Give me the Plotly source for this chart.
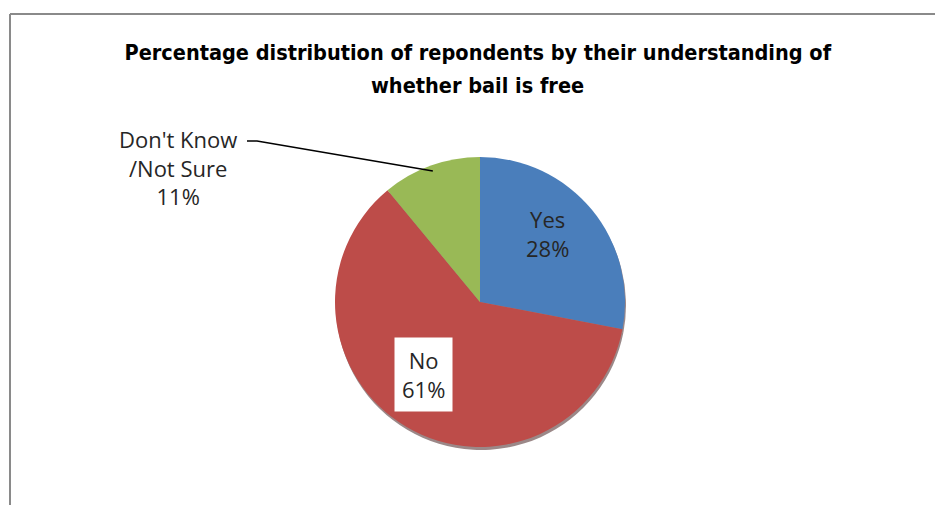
import math
import plotly.graph_objects as go

title_lines = ["Percentage distribution of repondents by their understanding of",
               "whether bail is free"]
categories = ["Yes", "No", "Don't Know<br>/Not Sure"]
values = [28, 61, 11]
colors = ["#4A7EBB", "#BD4C49", "#99B956"]

W, H = 935, 505
cx, cy, r = 480, 302, 145  # pixel geometry of the pie

dom_x = [(cx - r) / W, (cx + r) / W]
dom_y = [(H - cy - r) / H, (H - cy + r) / H]
sh = 3
dom_ys = [(H - cy - sh - r) / H, (H - cy - sh + r) / H]

fig = go.Figure()
# soft shadow
fig.add_trace(go.Pie(values=values, labels=categories, sort=False, direction="clockwise",
                     rotation=0, marker=dict(colors=["#5a3a3a"] * 3, line=dict(width=0)),
                     textinfo="none", hoverinfo="skip", showlegend=False,
                     domain=dict(x=[dom_x[0] + 1 / W, dom_x[1] + 1 / W], y=dom_ys), opacity=0.6))
fig.add_trace(go.Pie(values=values, labels=categories, sort=False, direction="clockwise",
                     rotation=0, marker=dict(colors=colors, line=dict(width=0)),
                     textinfo="none", showlegend=False,
                     domain=dict(x=dom_x, y=dom_y)))

total = sum(values)
cum = 0
mids = []
for v in values:
    mids.append((cum + v / 2) / total * 2 * math.pi)
    cum += v

def pos(angle, fx, fy):
    px = cx + fx * r * math.sin(angle)
    py = cy - fy * r * math.cos(angle)
    return px / W, 1 - py / H

font = dict(family="Open Sans, sans-serif", size=22, color="#262626")

# Yes label (inside)
x0, y0 = pos(mids[0], 0.60, 0.74)
fig.add_annotation(x=x0, y=y0, xref="paper", yref="paper", xanchor="center", yanchor="middle",
                   text=f"{categories[0]}<br>{values[0]}%", showarrow=False,
                   font=font, align="center")
# No label (inside with white box)
x1, y1 = pos(mids[1], 0.76, 0.58)
fig.add_annotation(x=x1, y=y1, xref="paper", yref="paper", xanchor="center", yanchor="middle",
                   text=f"{categories[1]}<br>{values[1]}%", showarrow=False,
                   font=font, align="center", bgcolor="white", borderpad=7)
# Don't know label (outside with leader)
ex, ey = pos(mids[2], 0.96, 0.96)
fig.add_annotation(x=178 / W, y=1 - 167 / H, xref="paper", yref="paper",
                   xanchor="center", yanchor="middle",
                   text=f"{categories[2]}<br>{values[2]}%", showarrow=False,
                   font=font, align="center")

tfont = dict(family="DejaVu Sans Condensed, sans-serif", size=21.5, color="#000000")
fig.add_annotation(x=0.511, y=1 - 85 / H, xref="paper", yref="paper",
                   xanchor="center", yanchor="middle", showarrow=False,
                   text="<b>" + title_lines[1] + "</b>", font=tfont)

fig.update_layout(
    width=W, height=H, margin=dict(l=0, r=0, t=0, b=0),
    paper_bgcolor="white", plot_bgcolor="white",
    title=dict(text="<b>" + title_lines[0] + "</b>", x=0.511, xanchor="center",
               y=1 - 52 / H, yanchor="middle", font=tfont),
    shapes=[
        dict(type="line", xref="paper", yref="paper", x0=10 / W, x1=1, y0=1 - 14 / H, y1=1 - 14 / H,
             line=dict(color="#8a8a8a", width=2)),
        dict(type="line", xref="paper", yref="paper", x0=10 / W, x1=10 / W, y0=0, y1=1 - 14 / H,
             line=dict(color="#8a8a8a", width=2)),
        dict(type="path", xref="paper", yref="paper",
             path=f"M {247 / W},{1 - 141 / H} L {257 / W},{1 - 141 / H} L {ex},{ey}",
             line=dict(color="#000000", width=1.5)),
    ],
)

fig.write_html("out.html", config={"displayModeBar": False},
               post_script="document.body.style.margin='0';document.body.style.overflow='hidden';")
